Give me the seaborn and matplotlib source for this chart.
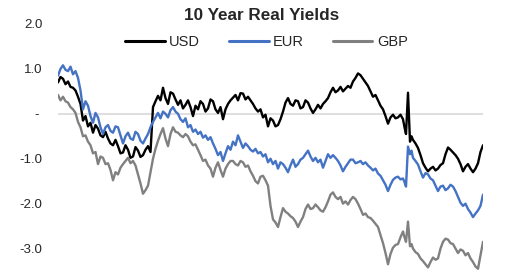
import matplotlib
matplotlib.use("Agg")
import matplotlib.pyplot as plt
import seaborn as sns
import pandas as pd

# time axis: half-step samples, with extra samples around the sharp spike
t = [k / 2 for k in range(139)] + [69.3, 69.6, 70.0, 70.4, 70.7] + [71 + k / 2 for k in range(29)]

usd = [0.70, 0.82, 0.78, 0.66, 0.72, 0.60, 0.58, 0.52, 0.38, 0.22,
       -0.15, -0.05, -0.28, -0.20, -0.42, -0.25, -0.33, -0.48, -0.52, -0.40,
       -0.55, -0.66, -0.70, -0.58, -0.72, -0.88, -0.86, -0.70, -0.80, -0.98,
       -0.95, -0.74, -0.82, -0.96, -0.92, -0.80, -0.72, -0.85, 0.15, 0.28,
       0.40, 0.30, 0.58, 0.35, 0.22, 0.48, 0.45, 0.32, 0.20, 0.30,
       0.12, 0.20, 0.30, 0.15, -0.05, 0.18, 0.10, 0.28, 0.22, 0.05,
       0.12, 0.32, 0.28, 0.10, 0.02, 0.15, -0.12, 0.10, 0.22, 0.30,
       0.36, 0.42, 0.30, 0.46, 0.45, 0.32, 0.38, 0.30, 0.22, 0.12,
       0.05, 0.10, -0.08, -0.02, -0.28, -0.10, -0.15, -0.28, -0.25, -0.12,
       0.05, 0.25, 0.35, 0.22, 0.18, 0.30, 0.28, 0.12, 0.15, 0.30,
       0.25, 0.12, 0.02, 0.10, 0.20, 0.12, 0.22, 0.28, 0.35, 0.48,
       0.58, 0.48, 0.52, 0.60, 0.50, 0.56, 0.62, 0.58, 0.72, 0.80,
       0.90, 0.86, 0.78, 0.70, 0.62, 0.50, 0.38, 0.42, 0.30, 0.18,
       0.10, -0.05, -0.22, -0.08, -0.02, -0.10, -0.08, -0.02, -0.12,
       -0.30, -0.45, 0.47, -0.62, -0.50,
       -0.58, -0.66, -0.76, -0.92, -1.10, -1.20, -1.28, -1.22, -1.18, -1.26,
       -1.22, -1.14, -1.10, -0.90, -0.75, -0.80, -0.86, -0.92, -1.00, -1.12,
       -1.28, -1.18, -1.12, -1.22, -1.30, -1.22, -1.10, -0.85, -0.70]

eur = [0.85, 1.00, 1.08, 0.98, 0.95, 1.05, 0.88, 0.95, 0.80, 0.52,
       0.10, 0.28, 0.18, -0.05, -0.20, 0.02, -0.08, -0.30, -0.45, -0.30,
       -0.25, -0.38, -0.42, -0.28, -0.30, -0.48, -0.66, -0.50, -0.42, -0.55,
       -0.58, -0.40, -0.45, -0.60, -0.66, -0.55, -0.45, -0.30, -0.18, -0.08,
       0.02, -0.10, 0.05, 0.00, -0.08, 0.08, 0.15, 0.05, 0.00, -0.12,
       -0.18, -0.10, -0.30, -0.25, -0.40, -0.35, -0.45, -0.40, -0.53, -0.48,
       -0.58, -0.52, -0.66, -0.78, -0.92, -0.85, -1.05, -0.88, -0.72, -0.80,
       -0.62, -0.70, -0.48, -0.62, -0.76, -0.66, -0.72, -0.80, -0.84, -0.78,
       -0.88, -0.85, -0.95, -0.90, -1.08, -1.00, -1.12, -1.05, -1.22, -1.08,
       -1.12, -1.20, -1.30, -1.15, -1.02, -1.18, -1.12, -1.02, -0.98, -0.90,
       -0.82, -0.95, -1.05, -0.98, -1.08, -1.02, -1.20, -1.05, -0.90, -0.98,
       -0.92, -0.98, -1.05, -1.15, -1.28, -1.18, -1.10, -1.02, -1.02, -1.10,
       -1.08, -1.05, -1.12, -1.08, -1.15, -1.20, -1.26, -1.22, -1.33, -1.38,
       -1.48, -1.58, -1.72, -1.58, -1.47, -1.42, -1.40, -1.46, -1.44,
       -1.52, -1.62, -0.73, -0.90, -0.82,
       -0.98, -1.05, -1.13, -1.28, -1.42, -1.32, -1.35, -1.44, -1.48, -1.60,
       -1.72, -1.62, -1.60, -1.70, -1.66, -1.58, -1.62, -1.72, -1.85, -1.98,
       -2.05, -2.00, -2.12, -2.20, -2.30, -2.22, -2.15, -2.05, -1.80]

gbp = [0.42, 0.30, 0.38, 0.28, 0.25, 0.15, 0.10, 0.02, -0.18, -0.30,
       -0.50, -0.48, -0.62, -0.70, -0.88, -0.85, -1.12, -0.95, -0.98, -1.12,
       -1.10, -1.25, -1.48, -1.30, -1.35, -1.20, -1.12, -1.05, -0.98, -1.10,
       -1.05, -1.15, -1.35, -1.55, -1.78, -1.70, -1.60, -1.30, -1.00, -0.78,
       -0.60, -0.45, -0.32, -0.55, -0.72, -0.45, -0.30, -0.40, -0.42, -0.48,
       -0.52, -0.45, -0.50, -0.62, -0.70, -0.68, -0.80, -0.92, -1.05, -1.02,
       -1.15, -1.22, -1.40, -1.20, -1.08, -1.25, -1.40, -1.22, -1.12, -1.05,
       -1.05, -1.12, -1.15, -1.05, -1.08, -1.18, -1.15, -1.28, -1.38, -1.50,
       -1.55, -1.40, -1.38, -1.48, -1.60, -2.05, -2.35, -2.42, -2.52, -2.30,
       -2.10, -2.18, -2.22, -2.28, -2.32, -2.40, -2.52, -2.40, -2.30, -2.12,
       -2.02, -2.12, -2.10, -2.02, -2.08, -2.15, -2.18, -2.08, -1.95, -1.80,
       -1.75, -1.85, -1.90, -1.85, -2.00, -1.95, -2.02, -1.92, -1.85, -1.90,
       -2.00, -2.12, -2.25, -2.22, -2.30, -2.32, -2.38, -2.45, -2.52, -2.70,
       -2.88, -3.10, -3.35, -3.12, -2.98, -2.92, -2.90, -2.75, -2.62,
       -2.75, -2.85, -2.40, -2.95, -2.90,
       -3.00, -3.08, -3.12, -3.22, -3.28, -3.35, -3.42, -3.30, -3.20, -3.25,
       -3.22, -3.00, -2.85, -2.78, -2.80, -2.88, -2.90, -3.00, -3.10, -3.02,
       -3.05, -3.15, -3.10, -3.22, -3.30, -3.40, -3.45, -3.15, -2.85]

series_names = ["USD", "EUR", "GBP"]
colors = ["#000000", "#4472C4", "#808080"]
y_ticks = [2.0, 1.0, 0.0, -1.0, -2.0, -3.0]
y_tick_labels = ["2.0", "1.0", "- ", "-1.0", "-2.0", "-3.0"]
title = "10 Year Real Yields"

frames = []
for name, vals in zip(series_names, [usd, eur, gbp]):
    frames.append(pd.DataFrame({"t": t, "value": vals, "series": name}))
df = pd.concat(frames, ignore_index=True)

sns.set_theme(style="white")
plt.rcParams["font.family"] = ["Liberation Sans", "DejaVu Sans"]

fig = plt.figure(figsize=(5.2, 2.72), dpi=100)
ax = fig.add_axes([58 / 520, 1 / 272, 425 / 520, 247 / 272])

ax.axhline(0, color="#D9D9D9", lw=1.2, zorder=0)
sns.lineplot(data=df, x="t", y="value", hue="series", hue_order=series_names,
             palette=colors, linewidth=1.7, ax=ax, sort=False, estimator=None)

ax.set_xlim(0, 85)
ax.set_ylim(-3.5, 2.0)
ax.set_yticks(y_ticks)
ax.set_yticklabels(y_tick_labels, fontsize=9.5)
ax.set_xticks([])
ax.set_xlabel("")
ax.set_ylabel("")
ax.tick_params(axis="y", length=0, pad=11)
for s in ax.spines.values():
    s.set_visible(False)

handles, labels = ax.get_legend_handles_labels()
for h in handles:
    h.set_linewidth(2.2)
ax.legend(handles, labels, loc="center", bbox_to_anchor=(266.5 / 520, 1 - 42 / 272),
          bbox_transform=fig.transFigure, ncol=3, frameon=False, fontsize=10.5,
          handlelength=2.7, handletextpad=0.3, columnspacing=2.0, borderpad=0)

fig.text(262 / 520, 1 - 15 / 272, title, ha="center", va="center",
         fontsize=12.3, fontweight="bold")

fig.savefig("out.png", dpi=100, facecolor="white")
